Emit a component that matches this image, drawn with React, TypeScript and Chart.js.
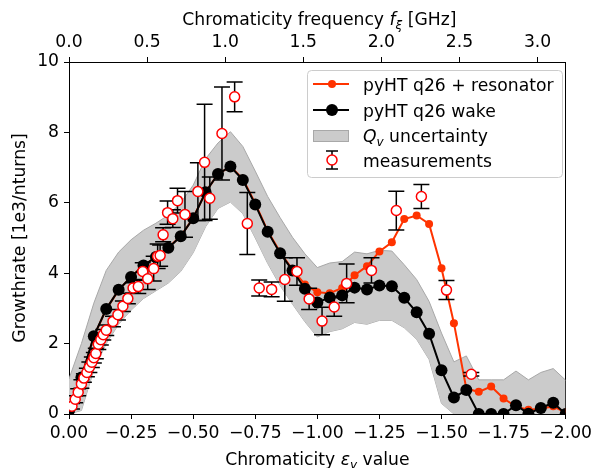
import React, { useEffect, useRef } from 'react';
import { Chart, registerables } from 'chart.js';

Chart.register(...registerables);

const FAM = '"DejaVu Sans", "Liberation Sans", sans-serif';
const FS = 17.2;

// Simulation chromaticity grid
const SIM_CHROMA = [0, -0.05, -0.1, -0.15, -0.2, -0.25, -0.3, -0.35, -0.4, -0.45, -0.5, -0.55, -0.6, -0.65, -0.7, -0.75, -0.8, -0.85, -0.9, -0.95, -1.0, -1.05, -1.1, -1.15, -1.2, -1.25, -1.3, -1.35, -1.4, -1.45, -1.5, -1.55, -1.6, -1.65, -1.7, -1.75, -1.8, -1.85, -1.9, -1.95, -2.0];

// pyHT q26 wake
const WAKE = [0.1, 1.04, 2.21, 2.98, 3.53, 3.89, 4.22, 4.46, 4.72, 5.05, 5.56, 6.3, 6.82, 7.03, 6.65, 5.95, 5.18, 4.57, 4.08, 3.56, 3.17, 3.31, 3.37, 3.59, 3.54, 3.65, 3.63, 3.3, 2.89, 2.28, 1.24, 0.47, 0.68, 0, 0, 0, 0.25, 0.01, 0.17, 0.32, 0];

// pyHT q26 + resonator
const RESON = [0.1, 1.04, 2.2, 2.98, 3.52, 3.9, 4.22, 4.46, 4.73, 5.05, 5.57, 6.3, 6.82, 7.03, 6.68, 5.98, 5.2, 4.6, 4.1, 3.68, 3.46, 3.43, 3.58, 3.94, 4.2, 4.62, 4.88, 5.54, 5.64, 5.4, 4.14, 2.58, 0.72, 0.63, 0.78, 0.44, 0.21, 0.12, 0.15, 0.22, 0.04];

// Q_v uncertainty band
const BAND_UPPER = [1.0, 2.0, 3.15, 4.08, 4.6, 4.95, 5.22, 5.42, 5.65, 6.0, 6.5, 7.25, 7.7, 8.02, 7.6, 6.9, 6.18, 5.58, 5.02, 4.55, 4.16, 4.29, 4.33, 4.6, 4.55, 4.65, 4.63, 4.24, 3.82, 3.2, 2.3, 1.48, 1.65, 0.97, 0.97, 0.97, 1.22, 0.97, 1.18, 1.29, 0.96];
const BAND_LOWER = [0, 0.1, 1.25, 2.0, 2.55, 2.95, 3.28, 3.5, 3.72, 4.05, 4.58, 5.32, 5.84, 6.02, 5.69, 5.0, 4.28, 3.65, 3.12, 2.62, 2.19, 2.34, 2.42, 2.6, 2.55, 2.66, 2.66, 2.45, 2.12, 1.55, 0.3, 0, 0, 0, 0, 0, 0, 0, 0, 0, 0];

// Measurements
const MEAS_X = [-0.012, -0.025, -0.037, -0.05, -0.06, -0.072, -0.082, -0.092, -0.1, -0.108, -0.118, -0.128, -0.138, -0.15, -0.177, -0.197, -0.217, -0.237, -0.258, -0.279, -0.297, -0.317, -0.341, -0.357, -0.367, -0.379, -0.397, -0.418, -0.437, -0.467, -0.519, -0.546, -0.567, -0.616, -0.667, -0.718, -0.766, -0.816, -0.869, -0.918, -0.967, -1.019, -1.068, -1.118, -1.218, -1.318, -1.419, -1.52, -1.62];
const MEAS_Y = [0.22, 0.42, 0.62, 0.85, 1.02, 1.18, 1.33, 1.47, 1.6, 1.72, 1.98, 2.11, 2.25, 2.38, 2.63, 2.82, 3.06, 3.28, 3.58, 3.62, 4.05, 3.84, 4.13, 4.48, 4.5, 5.09, 5.72, 5.55, 6.06, 5.67, 6.32, 7.15, 6.13, 7.97, 9.01, 5.41, 3.58, 3.54, 3.82, 4.05, 3.27, 2.64, 3.04, 3.71, 4.08, 5.78, 6.18, 3.52, 1.13];
const MEAS_ERR = [0.08, 0.1, 0.1, 0.12, 0.12, 0.12, 0.15, 0.15, 0.15, 0.15, 0.15, 0.15, 0.15, 0.15, 0.15, 0.15, 0.15, 0.15, 0.15, 0.2, 0.25, 0.3, 0.35, 0.35, 0.3, 0.2, 0.33, 0.25, 0.35, 0.65, 0.82, 1.65, 0.6, 1.32, 0.42, 0.88, 0.23, 0.21, 0.62, 0.39, 0.3, 0.39, 0.26, 0.55, 0.36, 0.55, 0.34, 0.27, 0.05];

// Top axis range (chromaticity frequency in GHz at the right edge)
const F_MAX = 3.18;

const LEGEND_LABELS = ['pyHT q26 + resonator', 'pyHT q26 wake', 'uncertainty', 'measurements'];

const RED_SIM = '#ff3300';
const RED_MEAS = '#ff0000';
const BAND_FILL = '#cbcbcb';
const BAND_EDGE = '#a8a8a8';

type Seg = { t: string; it?: boolean; sub?: boolean };

function drawRich(ctx: CanvasRenderingContext2D, segs: Seg[], x: number, y: number, size: number, align: 'center' | 'left') {
  const fontFor = (s: Seg) => `${s.it ? 'italic ' : ''}${s.sub ? size * 0.7 : size}px ${FAM}`;
  let total = 0;
  for (const s of segs) {
    ctx.font = fontFor(s);
    total += ctx.measureText(s.t).width;
  }
  let cx = align === 'center' ? x - total / 2 : x;
  ctx.textAlign = 'left';
  ctx.textBaseline = 'alphabetic';
  for (const s of segs) {
    ctx.font = fontFor(s);
    ctx.fillText(s.t, cx, y + (s.sub ? size * 0.22 : 0));
    cx += ctx.measureText(s.t).width;
  }
}

const errorBarPlugin = {
  id: 'errorBars',
  beforeDatasetDraw(chart: any, args: any) {
    if (args.index !== 0) return;
    const ctx: CanvasRenderingContext2D = chart.ctx;
    const xs = chart.scales.x;
    const ys = chart.scales.y;
    const a = chart.chartArea;
    ctx.save();
    ctx.beginPath();
    ctx.rect(a.left, a.top, a.right - a.left, a.bottom - a.top);
    ctx.clip();
    ctx.strokeStyle = '#000';
    ctx.lineWidth = 1.5;
    const cap = 8;
    for (let i = 0; i < MEAS_X.length; i++) {
      const px = xs.getPixelForValue(MEAS_X[i]);
      const pt = ys.getPixelForValue(MEAS_Y[i] + MEAS_ERR[i]);
      const pb = ys.getPixelForValue(MEAS_Y[i] - MEAS_ERR[i]);
      ctx.beginPath();
      ctx.moveTo(px, pt);
      ctx.lineTo(px, pb);
      ctx.moveTo(px - cap, pt);
      ctx.lineTo(px + cap, pt);
      ctx.moveTo(px - cap, pb);
      ctx.lineTo(px + cap, pb);
      ctx.stroke();
    }
    ctx.restore();
  },
};

const overlayPlugin = {
  id: 'overlay',
  afterDraw(chart: any) {
    const ctx: CanvasRenderingContext2D = chart.ctx;
    const a = chart.chartArea;
    const cx = (a.left + a.right) / 2;
    const cy = (a.top + a.bottom) / 2;
    ctx.save();
    ctx.fillStyle = '#000';
    // bottom title
    drawRich(ctx, [{ t: 'Chromaticity ' }, { t: 'ε', it: true }, { t: 'y', it: true, sub: true }, { t: ' value' }], cx, 465, FS, 'center');
    // top title
    drawRich(ctx, [{ t: 'Chromaticity frequency ' }, { t: 'f', it: true }, { t: 'ξ', it: true, sub: true }, { t: ' [GHz]' }], cx + 2, 25, FS, 'center');
    // y title
    ctx.save();
    ctx.translate(25, cy);
    ctx.rotate(-Math.PI / 2);
    ctx.font = `${FS}px ${FAM}`;
    ctx.textAlign = 'center';
    ctx.textBaseline = 'alphabetic';
    ctx.fillText('Growthrate [1e3/nturns]', 0, 0);
    ctx.restore();

    // legend
    const lx = 307, ly = 70, lw = 255, lh = 107;
    ctx.beginPath();
    (ctx as any).roundRect(lx + 0.5, ly + 0.5, lw, lh, 4);
    ctx.fillStyle = 'rgba(255,255,255,0.85)';
    ctx.fill();
    ctx.strokeStyle = '#cccccc';
    ctx.lineWidth = 1;
    ctx.stroke();

    const hx0 = 313, hx1 = 349, hm = 332, tx = 363;
    const rows = [84, 110, 136, 160];
    const bases = [91, 116.5, 142, 167];
    // row 1: resonator
    ctx.strokeStyle = RED_SIM;
    ctx.lineWidth = 2;
    ctx.beginPath(); ctx.moveTo(hx0, rows[0]); ctx.lineTo(hx1, rows[0]); ctx.stroke();
    ctx.fillStyle = RED_SIM;
    ctx.beginPath(); ctx.arc(hm, rows[0], 4, 0, Math.PI * 2); ctx.fill();
    // row 2: wake
    ctx.strokeStyle = '#000';
    ctx.beginPath(); ctx.moveTo(hx0, rows[1]); ctx.lineTo(hx1, rows[1]); ctx.stroke();
    ctx.fillStyle = '#000';
    ctx.beginPath(); ctx.arc(hm, rows[1], 6, 0, Math.PI * 2); ctx.fill();
    // row 3: band
    ctx.fillStyle = BAND_FILL;
    ctx.fillRect(hx0, rows[2] - 6, hx1 - hx0, 12);
    ctx.strokeStyle = BAND_EDGE;
    ctx.lineWidth = 1;
    ctx.strokeRect(hx0 + 0.5, rows[2] - 5.5, hx1 - hx0 - 1, 11);
    // row 4: measurements
    ctx.strokeStyle = '#000';
    ctx.lineWidth = 1.5;
    ctx.beginPath();
    ctx.moveTo(hm, rows[3] - 9); ctx.lineTo(hm, rows[3] + 9);
    ctx.moveTo(hm - 6, rows[3] - 9); ctx.lineTo(hm + 6, rows[3] - 9);
    ctx.moveTo(hm - 6, rows[3] + 9); ctx.lineTo(hm + 6, rows[3] + 9);
    ctx.stroke();
    ctx.fillStyle = '#fff';
    ctx.strokeStyle = RED_MEAS;
    ctx.beginPath(); ctx.arc(hm, rows[3], 5, 0, Math.PI * 2); ctx.fill(); ctx.stroke();

    ctx.fillStyle = '#000';
    drawRich(ctx, [{ t: LEGEND_LABELS[0] }], tx, bases[0], FS, 'left');
    drawRich(ctx, [{ t: LEGEND_LABELS[1] }], tx, bases[1], FS, 'left');
    drawRich(ctx, [{ t: 'Q', it: true }, { t: 'v', it: true, sub: true }, { t: ' ' + LEGEND_LABELS[2] }], tx, bases[2], FS, 'left');
    drawRich(ctx, [{ t: LEGEND_LABELS[3] }], tx, bases[3], FS, 'left');
    ctx.restore();
  },
};

const fmtMinus = (v: number, d: number) => {
  const s = Math.abs(v).toFixed(d);
  return v < -1e-9 ? '\u2212' + s : s;
};

export default function App() {
  const ref = useRef<HTMLCanvasElement>(null);
  useEffect(() => {
    const pts = (ys: number[]) => SIM_CHROMA.map((x, i) => ({ x, y: ys[i] }));
    const meas = MEAS_X.map((x, i) => ({ x, y: MEAS_Y[i] }));
    const tickFont = { family: FAM, size: FS };
    const chart = new Chart(ref.current as HTMLCanvasElement, {
      type: 'line',
      data: {
        datasets: [
          {
            label: 'measurements',
            data: meas,
            showLine: false,
            pointRadius: 5,
            pointBorderWidth: 1.5,
            pointBorderColor: RED_MEAS,
            pointBackgroundColor: '#ffffff',
            order: 0,
            clip: 0,
          } as any,
          {
            label: 'pyHT q26 wake',
            data: pts(WAKE),
            borderColor: '#000',
            borderWidth: 2,
            pointRadius: 6,
            pointBackgroundColor: '#000',
            pointBorderWidth: 0,
            tension: 0,
            order: 1,
            clip: 0,
          },
          {
            label: 'pyHT q26 + resonator',
            data: pts(RESON),
            borderColor: RED_SIM,
            borderWidth: 2,
            pointRadius: 4,
            pointBackgroundColor: RED_SIM,
            pointBorderWidth: 0,
            tension: 0,
            order: 2,
            clip: 0,
          },
          {
            label: 'Qv uncertainty upper',
            data: pts(BAND_UPPER),
            borderColor: BAND_EDGE,
            borderWidth: 1,
            pointRadius: 0,
            backgroundColor: BAND_FILL,
            fill: '+1',
            tension: 0,
            order: 3,
            clip: 0,
          },
          {
            label: 'Qv uncertainty lower',
            data: pts(BAND_LOWER),
            borderColor: BAND_EDGE,
            borderWidth: 1,
            pointRadius: 0,
            fill: false,
            tension: 0,
            order: 4,
            clip: 0,
          },
        ],
      },
      options: {
        responsive: false,
        animation: false,
        events: [],
        layout: { padding: 0 },
        plugins: { legend: { display: false }, tooltip: { enabled: false } },
        scales: {
          x: {
            type: 'linear',
            position: 'bottom',
            min: -2,
            max: 0,
            reverse: true,
            ticks: {
              stepSize: 0.25,
              color: '#000',
              font: tickFont,
              padding: 4,
              maxRotation: 0,
              autoSkip: false,
              callback: (v: any) => fmtMinus(Number(v), 2),
            },
            grid: { drawOnChartArea: false, drawTicks: true, tickLength: 5, tickColor: '#000', tickWidth: 1 },
            border: { display: true, color: '#000', width: 1 },
            afterFit: (s: any) => { s.height = 54; },
          },
          x2: {
            type: 'linear',
            position: 'top',
            min: 0,
            max: F_MAX,
            ticks: {
              stepSize: 0.5,
              includeBounds: false,
              color: '#000',
              font: tickFont,
              padding: 4,
              maxRotation: 0,
              autoSkip: false,
              callback: (v: any) => Number(v).toFixed(1),
            },
            grid: { drawOnChartArea: false, drawTicks: true, tickLength: 5, tickColor: '#000', tickWidth: 1 },
            border: { display: true, color: '#000', width: 1 },
            afterFit: (s: any) => { s.height = 62; },
          },
          y: {
            type: 'linear',
            position: 'left',
            min: 0,
            max: 10,
            ticks: {
              stepSize: 2,
              color: '#000',
              font: tickFont,
              padding: 5,
              callback: (v: any) => String(v),
            },
            grid: { drawOnChartArea: false, drawTicks: true, tickLength: 5, tickColor: '#000', tickWidth: 1 },
            border: { display: true, color: '#000', width: 1 },
            afterFit: (s: any) => { s.width = 69; },
          },
          y2: {
            type: 'linear',
            position: 'right',
            display: true,
            min: 0,
            max: 10,
            ticks: { display: false },
            grid: { drawOnChartArea: false, drawTicks: false },
            border: { display: true, color: '#000', width: 1 },
            afterFit: (s: any) => { s.width = 26; },
          },
        },
      } as any,
      plugins: [errorBarPlugin, overlayPlugin],
    });
    return () => chart.destroy();
  }, []);
  return (
    <div style={{ position: 'absolute', left: 0, top: 0, width: 596, height: 468, background: '#fff' }}>
      <canvas ref={ref} width={596} height={468} style={{ display: 'block' }} />
    </div>
  );
}
